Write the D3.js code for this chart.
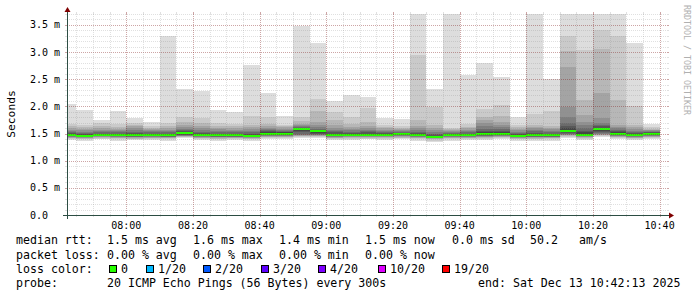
<!DOCTYPE html>
<html>
<head>
<meta charset="utf-8">
<script src="https://cdnjs.cloudflare.com/ajax/libs/d3/7.8.5/d3.min.js"></script>
<style>
  html, body { margin: 0; padding: 0; background: #fff; }
  svg text { font-family: "DejaVu Sans Mono", monospace; }
</style>
</head>
<body>
<div id="chart"></div>
<script>
// end time of each 5 minute step (HH:MM)
const barEnds = ["07:45","07:50","07:55","08:00","08:05","08:10","08:15","08:20","08:25","08:30",
  "08:35","08:40","08:45","08:50","08:55","09:00","09:05","09:10","09:15","09:20",
  "09:25","09:30","09:35","09:40","09:45","09:50","09:55","10:00","10:05","10:10",
  "10:15","10:20","10:25","10:30","10:35","10:40"];

// median rtt per step, ms
const medians = [1.475,1.46,1.475,1.47,1.465,1.465,1.465,1.51,1.47,1.465,
  1.465,1.46,1.50,1.50,1.575,1.54,1.477,1.477,1.477,1.477,
  1.49,1.47,1.445,1.47,1.47,1.49,1.50,1.46,1.465,1.465,
  1.555,1.48,1.58,1.495,1.47,1.495];

// 20 sorted pings per step, ms
const pings = [
  [1.38,1.40,1.41,1.42,1.43,1.44,1.45,1.455,1.46,1.47,1.48,1.50,1.51,1.53,1.55,1.57,1.60,1.63,1.67,2.05],
  [1.37,1.39,1.40,1.41,1.42,1.43,1.435,1.44,1.45,1.455,1.465,1.48,1.50,1.51,1.53,1.56,1.59,1.62,1.66,1.94],
  [1.39,1.40,1.42,1.43,1.44,1.45,1.455,1.46,1.465,1.47,1.48,1.49,1.50,1.52,1.54,1.57,1.60,1.63,1.70,1.75],
  [1.37,1.39,1.41,1.42,1.43,1.44,1.45,1.455,1.46,1.465,1.475,1.49,1.50,1.52,1.54,1.56,1.58,1.62,1.67,1.92],
  [1.38,1.39,1.40,1.42,1.43,1.44,1.445,1.45,1.455,1.46,1.47,1.49,1.51,1.53,1.56,1.60,1.63,1.66,1.70,1.78],
  [1.38,1.40,1.41,1.42,1.43,1.44,1.45,1.455,1.46,1.46,1.47,1.48,1.50,1.52,1.54,1.56,1.58,1.61,1.64,1.71],
  [1.37,1.39,1.41,1.42,1.43,1.44,1.445,1.45,1.455,1.46,1.47,1.48,1.50,1.52,1.54,1.57,1.60,1.63,1.70,3.30],
  [1.41,1.43,1.44,1.45,1.455,1.46,1.47,1.48,1.49,1.50,1.52,1.53,1.54,1.56,1.59,1.62,1.66,1.72,1.81,2.32],
  [1.38,1.40,1.41,1.42,1.43,1.44,1.45,1.455,1.46,1.465,1.475,1.49,1.51,1.53,1.56,1.60,1.64,1.70,1.79,2.29],
  [1.37,1.39,1.40,1.42,1.43,1.44,1.445,1.45,1.455,1.46,1.47,1.48,1.50,1.52,1.55,1.58,1.61,1.64,1.69,1.94],
  [1.38,1.39,1.41,1.42,1.43,1.44,1.445,1.45,1.455,1.46,1.47,1.48,1.50,1.52,1.54,1.57,1.60,1.63,1.67,1.89],
  [1.37,1.39,1.40,1.41,1.42,1.43,1.44,1.445,1.45,1.455,1.465,1.48,1.50,1.52,1.55,1.58,1.62,1.65,1.83,2.76],
  [1.40,1.42,1.43,1.44,1.45,1.46,1.47,1.48,1.49,1.495,1.505,1.52,1.54,1.56,1.58,1.60,1.63,1.67,1.81,2.25],
  [1.40,1.41,1.43,1.44,1.45,1.46,1.47,1.48,1.49,1.495,1.505,1.52,1.53,1.55,1.57,1.59,1.62,1.64,1.66,1.83],
  [1.41,1.43,1.45,1.46,1.47,1.48,1.50,1.52,1.55,1.565,1.585,1.60,1.61,1.62,1.64,1.66,1.68,1.73,1.81,3.47],
  [1.41,1.43,1.45,1.46,1.47,1.48,1.49,1.50,1.51,1.53,1.55,1.56,1.57,1.59,1.62,1.66,1.71,1.91,2.14,3.17],
  [1.38,1.40,1.41,1.42,1.43,1.44,1.45,1.46,1.465,1.47,1.485,1.50,1.52,1.54,1.57,1.61,1.65,1.75,1.90,2.09],
  [1.38,1.40,1.42,1.43,1.44,1.45,1.455,1.46,1.465,1.47,1.485,1.50,1.51,1.53,1.56,1.59,1.62,1.68,1.81,2.21],
  [1.39,1.40,1.42,1.43,1.44,1.45,1.455,1.46,1.465,1.47,1.485,1.50,1.52,1.54,1.57,1.60,1.64,1.72,1.97,2.18],
  [1.38,1.40,1.41,1.43,1.44,1.45,1.455,1.46,1.465,1.47,1.485,1.50,1.51,1.53,1.55,1.57,1.60,1.62,1.66,1.79],
  [1.39,1.41,1.42,1.44,1.45,1.46,1.465,1.47,1.48,1.485,1.495,1.50,1.51,1.53,1.54,1.56,1.58,1.60,1.64,1.76],
  [1.37,1.39,1.41,1.42,1.43,1.44,1.45,1.455,1.46,1.465,1.475,1.49,1.51,1.53,1.56,1.60,1.63,1.75,2.95,3.70],
  [1.35,1.37,1.39,1.40,1.41,1.42,1.425,1.43,1.435,1.44,1.45,1.46,1.48,1.50,1.53,1.56,1.60,1.66,1.98,2.32],
  [1.37,1.39,1.41,1.42,1.43,1.44,1.45,1.455,1.46,1.465,1.475,1.48,1.49,1.51,1.52,1.54,1.56,1.58,1.61,3.70],
  [1.38,1.40,1.41,1.42,1.43,1.44,1.45,1.455,1.46,1.465,1.475,1.49,1.50,1.52,1.54,1.57,1.60,1.62,1.67,2.58],
  [1.38,1.40,1.42,1.43,1.44,1.45,1.46,1.47,1.48,1.485,1.50,1.53,1.55,1.58,1.63,1.70,1.75,1.81,1.95,2.80],
  [1.39,1.41,1.43,1.44,1.45,1.46,1.47,1.48,1.49,1.495,1.51,1.53,1.55,1.58,1.62,1.66,1.72,1.83,2.02,2.54],
  [1.37,1.39,1.40,1.41,1.42,1.43,1.44,1.445,1.45,1.455,1.465,1.48,1.49,1.51,1.53,1.56,1.59,1.62,1.66,1.81],
  [1.37,1.39,1.40,1.42,1.43,1.44,1.445,1.45,1.455,1.46,1.47,1.49,1.51,1.54,1.57,1.60,1.62,1.66,1.86,3.70],
  [1.37,1.39,1.41,1.42,1.43,1.44,1.445,1.45,1.455,1.46,1.47,1.48,1.50,1.52,1.55,1.58,1.60,1.63,1.92,2.50],
  [1.42,1.44,1.46,1.47,1.48,1.49,1.50,1.51,1.53,1.545,1.57,1.60,1.64,1.70,1.81,1.99,2.72,3.01,3.30,3.70],
  [1.38,1.40,1.42,1.43,1.44,1.45,1.46,1.465,1.47,1.475,1.49,1.52,1.55,1.60,1.65,1.72,1.84,2.11,3.03,3.70],
  [1.43,1.45,1.47,1.48,1.49,1.50,1.51,1.53,1.55,1.57,1.59,1.61,1.63,1.66,1.70,1.78,2.25,3.06,3.41,3.70],
  [1.39,1.41,1.43,1.44,1.45,1.46,1.47,1.48,1.485,1.49,1.50,1.52,1.54,1.57,1.60,1.62,1.66,2.12,3.30,3.70],
  [1.38,1.40,1.41,1.42,1.43,1.44,1.45,1.455,1.46,1.465,1.475,1.49,1.51,1.53,1.55,1.58,1.62,1.66,2.00,3.17],
  [1.40,1.42,1.43,1.44,1.45,1.46,1.47,1.48,1.485,1.49,1.50,1.51,1.52,1.53,1.54,1.56,1.57,1.59,1.62,1.67]
];

// packet loss per step (out of 20) - all zero here
const loss = barEnds.map(() => 0);

const lossLabels = ["0", "1/20", "2/20", "3/20", "4/20", "10/20", "19/20"];
const lossSteps = [0, 1, 2, 3, 4, 10, 19];
const lossColors = ["#26ff00", "#00b8ff", "#0059ff", "#5e00ff", "#7e00ff", "#dd00ff", "#ff0000"];

const rttStats = [["1.5 ms", "avg"], ["1.6 ms", "max"], ["1.4 ms", "min"], ["1.5 ms", "now"], ["0.0 ms", "sd"]];
const lossStats = [["0.00 %", "avg"], ["0.00 %", "max"], ["0.00 %", "min"], ["0.00 %", "now"]];

const width = 697, height = 297;
const plotL = 67, plotR = 667, plotB = 215, plotT = 14;

const day = "2025-12-13T";
const tStart = new Date(day + "07:42:13");
const tEnd = new Date(day + "10:42:13");

const x = d3.scaleTime().domain([tStart, tEnd]).range([plotL, plotR]);
const y = d3.scaleLinear().domain([0, 3.7]).range([plotB, plotT]);

const svg = d3.select("#chart").append("svg")
    .attr("width", width)
    .attr("height", height);

svg.append("rect").attr("width", width).attr("height", height).attr("fill", "#fff");

svg.append("clipPath").attr("id", "plot")
  .append("rect")
    .attr("x", plotL).attr("y", plotT)
    .attr("width", plotR - plotL).attr("height", plotB - plotT);

// smoke: band k spans ping[k] .. ping[19-k], darker toward the middle
const plot = svg.append("g").attr("clip-path", "url(#plot)");
const half = 10;
barEnds.forEach((e, i) => {
  const te = new Date(day + e + ":00");
  const ts = d3.timeMinute.offset(te, -5);
  const p = pings[i].slice().sort(d3.ascending);
  for (let k = 0; k < half; k++) {
    const c = Math.floor(190 / half * (half - (k + 1))) + 50;
    const lo = p[k], hi = p[19 - k];
    plot.append("rect")
      .attr("x", x(ts)).attr("width", x(te) - x(ts))
      .attr("y", y(hi)).attr("height", Math.max(0, y(lo) - y(hi)))
      .attr("fill", d3.rgb(c, c, c))
      .attr("shape-rendering", "crispEdges");
  }
});

// median, coloured by loss
barEnds.forEach((e, i) => {
  const te = new Date(day + e + ":00");
  const ts = d3.timeMinute.offset(te, -5);
  let ci = 0;
  lossSteps.forEach((s, j) => { if (loss[i] >= s) ci = j; });
  plot.append("rect")
    .attr("x", x(ts)).attr("width", x(te) - x(ts))
    .attr("y", Math.round(y(medians[i])) - 1).attr("height", 2)
    .attr("fill", lossColors[ci])
    .attr("shape-rendering", "crispEdges");
});

// grid on top of the data
const gridMinor = "rgba(140,140,140,0.27)";
const gridMajor = "rgba(130,30,30,0.4)";
const grid = svg.append("g").attr("shape-rendering", "crispEdges");

const yMinor = d3.range(0, 38).map(d => d / 10);
yMinor.forEach(v => {
  const major = Math.round(v * 10) % 5 === 0;
  const yy = Math.round(y(v)) + 0.5;
  const col = major ? gridMajor : gridMinor;
  grid.append("line").attr("x1", plotL).attr("x2", plotR).attr("y1", yy).attr("y2", yy)
    .attr("stroke", col).attr("stroke-dasharray", "1,1");
  grid.append("line").attr("x1", plotL - 2).attr("x2", plotL).attr("y1", yy).attr("y2", yy).attr("stroke", col);
  grid.append("line").attr("x1", plotR).attr("x2", plotR + 2).attr("y1", yy).attr("y2", yy).attr("stroke", col);
});

const xMinor = d3.timeMinute.every(5).range(tStart, tEnd);
xMinor.forEach(t => {
  const major = t.getMinutes() % 20 === 0;
  const xx = Math.round(x(t)) + 0.5;
  const col = major ? gridMajor : gridMinor;
  grid.append("line").attr("x1", xx).attr("x2", xx).attr("y1", plotT).attr("y2", plotB)
    .attr("stroke", col).attr("stroke-dasharray", "1,1");
  grid.append("line").attr("x1", xx).attr("x2", xx).attr("y1", plotT - 2).attr("y2", plotT).attr("stroke", col);
  grid.append("line").attr("x1", xx).attr("x2", xx).attr("y1", plotB).attr("y2", plotB + 2).attr("stroke", col);
});

// axes
const axisCol = "#2c4d43", arrowCol = "#7f0000";
svg.append("line").attr("x1", plotL - 4).attr("x2", plotR + 4)
  .attr("y1", plotB + 0.5).attr("y2", plotB + 0.5)
  .attr("stroke", axisCol).attr("shape-rendering", "crispEdges");
svg.append("line").attr("x1", plotL + 0.5).attr("x2", plotL + 0.5)
  .attr("y1", plotB + 4).attr("y2", plotT - 4)
  .attr("stroke", axisCol).attr("shape-rendering", "crispEdges");
svg.append("path")
  .attr("d", `M${plotR + 2},${plotB - 2.5}L${plotR + 2},${plotB + 3.5}L${plotR + 7},${plotB + 0.5}Z`)
  .attr("fill", arrowCol);
svg.append("path")
  .attr("d", `M${plotL - 2.5},${plotT - 2}L${plotL + 3.5},${plotT - 2}L${plotL + 0.5},${plotT - 7}Z`)
  .attr("fill", arrowCol);

// axis labels
const xMajor = d3.timeMinute.every(20).range(tStart, tEnd);
svg.append("g").selectAll("text").data(xMajor).join("text")
  .attr("x", d => x(d)).attr("y", 228.5)
  .attr("text-anchor", "middle")
  .attr("font-size", 10).attr("fill", "#000")
  .text(d3.timeFormat("%H:%M"));

const yMajor = d3.range(0, 8).map(d => d / 2);
svg.append("g").selectAll("text").data(yMajor).join("text")
  .attr("x", 30).attr("y", d => y(d)).attr("dy", "0.36em")
  .attr("font-size", 10).attr("fill", "#000")
  .text(d => d === 0 ? "0.0" : d.toFixed(1) + " m");

svg.append("text")
  .attr("transform", "translate(11,114) rotate(-90)")
  .attr("text-anchor", "middle").attr("dy", "0.36em")
  .attr("font-size", 11.3).attr("fill", "#000")
  .text("Seconds");

svg.append("text")
  .attr("transform", "translate(684,5) rotate(90)")
  .attr("font-size", 8.3).attr("fill", "#b0b0b0")
  .text("RRDTOOL / TOBI OETIKER");

// legend
const lg = svg.append("g").attr("font-size", 11.6).attr("fill", "#000");
const statX = [107, 193, 279, 365, 452];
lg.append("text").attr("x", 16).attr("y", 244).text("median rtt:");
rttStats.forEach((s, i) => lg.append("text").attr("x", statX[i]).attr("y", 244).text(s[0] + " " + s[1]));
lg.append("text").attr("x", 530).attr("y", 244).text("50.2");
lg.append("text").attr("x", 579).attr("y", 244).text("am/s");

lg.append("text").attr("x", 16).attr("y", 258.5).text("packet loss:");
lossStats.forEach((s, i) => lg.append("text").attr("x", statX[i]).attr("y", 258.5).text(s[0] + " " + s[1]));

lg.append("text").attr("x", 16).attr("y", 273).text("loss color:");
const boxX = [109, 146, 203, 261, 318, 378, 442];
lossLabels.forEach((l, i) => {
  lg.append("rect").attr("x", boxX[i] + 0.5).attr("y", 265.5).attr("width", 7).attr("height", 7)
    .attr("fill", lossColors[i]).attr("stroke", "#000").attr("shape-rendering", "crispEdges");
  lg.append("text").attr("x", boxX[i] + 12).attr("y", 273).text(l);
});

lg.append("text").attr("x", 16).attr("y", 287.3).text("probe:");
lg.append("text").attr("x", 107).attr("y", 287.3).text("20 ICMP Echo Pings (56 Bytes) every 300s");
lg.append("text").attr("x", 478).attr("y", 287.3).text("end: Sat Dec 13 10:42:13 2025");
</script>
</body>
</html>
